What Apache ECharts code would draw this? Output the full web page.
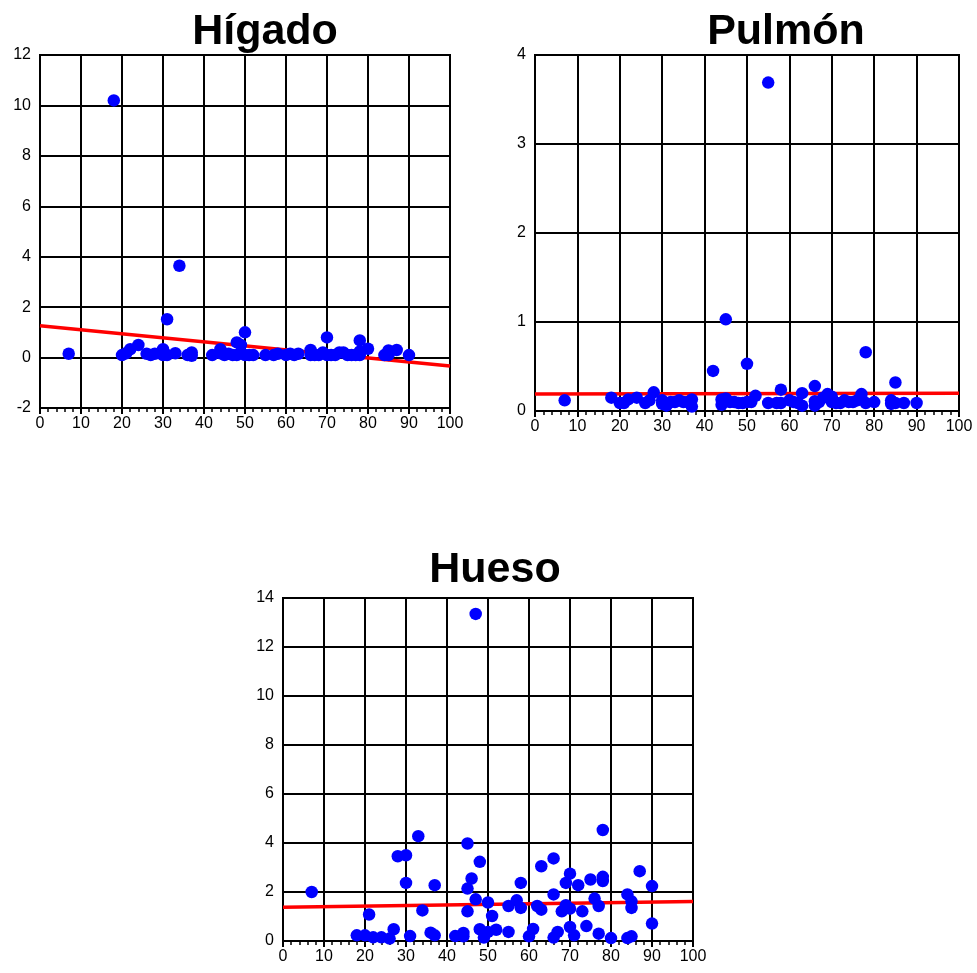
<!DOCTYPE html>
<html>
<head>
<meta charset="utf-8">
<script src="https://cdn.jsdelivr.net/npm/echarts@6/dist/echarts.min.js"></script>
<style>html,body{margin:0;padding:0;background:#fff;}#c{width:977px;height:973px;}</style>
</head>
<body>
<div id="c"></div>
<script>
const titles = ['Hígado', 'Pulmón', 'Hueso'];
const xTicks = [0, 10, 20, 30, 40, 50, 60, 70, 80, 90, 100];

const higado = [
  [7,0.15],[18,10.2],[20,0.1],[21,0.17],[22,0.33],[24,0.5],[26,0.15],[27,0.1],[28,0.15],
  [30,0.33],[30,0.1],[31,1.52],[31,0.1],[33,0.17],[34,3.64],[36,0.1],[37,0.2],[37,0.07],
  [42,0.1],[44,0.33],[44,0.17],[45,0.1],[46,0.15],[47,0.1],[48,0.6],[48,0.1],[49,0.5],
  [50,1.0],[50,0.1],[51,0.1],[52,0.1],[55,0.1],[57,0.1],[58,0.15],[60,0.1],[61,0.15],
  [62,0.1],[63,0.15],[66,0.3],[66,0.1],[67,0.1],[68,0.1],[69,0.2],[70,0.8],[70,0.1],
  [71,0.1],[72,0.1],[73,0.2],[74,0.2],[75,0.1],[76,0.1],[77,0.1],[78,0.68],[78,0.1],
  [78,0.24],[80,0.35],[84,0.1],[85,0.28],[85,0.1],[87,0.3],[90,0.1]
];
const pulmon = [
  [7,0.12],[18,0.15],[20,0.09],[21,0.09],[22,0.13],[24,0.15],[26,0.09],[27,0.12],[28,0.21],
  [30,0.12],[30,0.08],[31,0.06],[32,0.1],[33,0.1],[34,0.12],[35,0.1],[36,0.1],[37,0.13],
  [37,0.05],[42,0.45],[44,0.13],[44,0.07],[45,1.03],[45,0.14],[46,0.1],[47,0.1],[48,0.09],
  [49,0.09],[50,0.53],[50,0.1],[51,0.1],[52,0.17],[55,3.69],[55,0.09],[57,0.09],[58,0.24],
  [58,0.09],[60,0.12],[61,0.1],[62,0.09],[63,0.2],[63,0.06],[66,0.28],[66,0.11],[66,0.06],
  [67,0.1],[68,0.15],[69,0.19],[70,0.16],[70,0.1],[71,0.09],[72,0.09],[73,0.12],[74,0.1],
  [75,0.1],[76,0.12],[77,0.19],[77,0.14],[78,0.66],[78,0.09],[80,0.1],[84,0.12],[84,0.08],
  [85,0.32],[85,0.09],[87,0.09],[90,0.09]
];
const hueso = [
  [7,2.0],[47,13.35],[18,0.23],[20,0.23],[21,1.08],[22,0.15],[24,0.15],[26,0.1],[27,0.48],
  [28,3.46],[30,3.5],[30,2.37],[31,0.2],[33,4.28],[34,1.25],[36,0.34],[37,0.23],[37,2.28],
  [42,0.2],[44,0.33],[44,0.19],[45,3.98],[45,2.14],[45,1.21],[46,2.55],[47,1.7],[48,3.23],
  [48,0.48],[49,0.14],[50,1.57],[50,0.37],[51,1.02],[52,0.46],[55,1.43],[55,0.37],[57,1.66],
  [58,2.37],[58,1.35],[60,0.19],[61,0.49],[62,1.43],[63,3.05],[63,1.28],[66,3.37],[66,1.9],
  [66,0.14],[67,0.37],[68,1.21],[69,2.37],[69,1.46],[70,2.75],[70,1.32],[70,0.57],[71,0.23],
  [72,2.28],[73,1.21],[74,0.61],[75,2.51],[76,1.73],[77,1.43],[77,0.3],[78,4.53],[78,2.62],
  [78,2.45],[80,0.12],[84,1.9],[84,0.12],[85,1.62],[85,1.35],[85,0.19],[87,2.85],[90,2.24],
  [90,0.71]
];
const trendHigado = [[0,1.26],[100,-0.33]];
const trendPulmon = [[0,0.19],[100,0.20]];
const trendHueso = [[0,1.38],[100,1.61]];

const yRanges = [[-2,12,2],[0,4,1],[0,14,2]];
const grids = [
  {left:40, top:55, width:410, height:353},
  {left:535, top:55, width:424, height:356},
  {left:283, top:598, width:410, height:343}
];
const titlePos = [[265,32],[786,32],[495,570]];
const pts = [higado, pulmon, hueso];
const trends = [trendHigado, trendPulmon, trendHueso];

const FONT = '"Liberation Sans", Arial, sans-serif';
const xAxes = [], yAxes = [], series = [], graphics = [];
for (let i = 0; i < 3; i++) {
  xAxes.push({
    type:'value', gridIndex:i, min:0, max:100, interval:10, position:'bottom',
    axisLine:{show:true, onZero:false, lineStyle:{color:'#000', width:2}},
    axisTick:{show:true, inside:false, length:6, lineStyle:{color:'#000', width:2}},
    minorTick:{show:true, splitNumber:5, length:4, lineStyle:{color:'#000', width:1.5}},
    splitLine:{show:true, lineStyle:{color:'#000', width:2}},
    axisLabel:{color:'#000', fontSize:16, fontFamily:FONT, margin:8,
      customValues: xTicks, formatter: v => String(v)}
  });
  yAxes.push({
    type:'value', gridIndex:i, min:yRanges[i][0], max:yRanges[i][1], interval:yRanges[i][2],
    axisLine:{show:true, onZero:false, lineStyle:{color:'#000', width:2}},
    axisTick:{show:false},
    splitLine:{show:true, lineStyle:{color:'#000', width:2}},
    axisLabel:{color:'#000', fontSize:16, fontFamily:FONT, margin:9}
  });
  series.push({
    type:'line', xAxisIndex:i, yAxisIndex:i, data:trends[i], symbol:'none',
    lineStyle:{color:'#ff0000', width:3.5}, z:3, silent:true, animation:false
  });
  series.push({
    type:'scatter', xAxisIndex:i, yAxisIndex:i, data:pts[i], symbolSize:12.5,
    itemStyle:{color:'#0000ff', opacity:1}, z:4, animation:false
  });
  graphics.push({
    type:'text', x:titlePos[i][0], y:titlePos[i][1],
    style:{text:titles[i], fill:'#000', font:'bold 43px ' + FONT, textAlign:'center', textVerticalAlign:'middle'}
  });
}
const grid = grids.map(g => Object.assign({show:true, borderColor:'#000', borderWidth:2, backgroundColor:'#fff'}, g));

const chart = echarts.init(document.getElementById('c'), null, {renderer:'canvas'});
chart.setOption({
  animation:false,
  backgroundColor:'#fff',
  grid: grid,
  xAxis: xAxes,
  yAxis: yAxes,
  series: series,
  graphic: graphics
});
</script>
</body>
</html>
